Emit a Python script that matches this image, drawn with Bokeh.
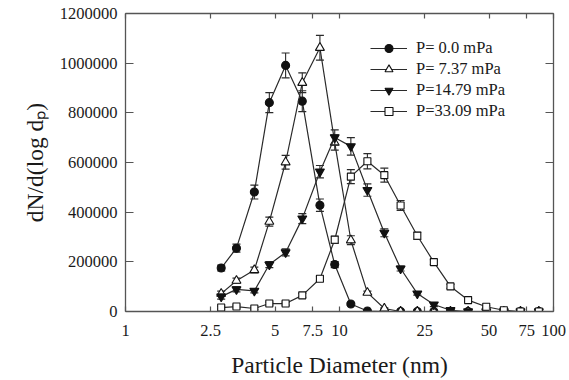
from bokeh.plotting import figure
from bokeh.models import (LogAxis, LinearAxis, FixedTicker, CustomJSTickFormatter,
                          BasicTickFormatter, Range1d, Legend, LegendItem)
from bokeh.embed import file_html
from bokeh.resources import INLINE

# ---------------- data ----------------
diam_nm = [2.8, 3.3, 4.0, 4.7, 5.6, 6.7, 8.1, 9.5, 11.3, 13.5,
           16.2, 19.3, 23.1, 27.6, 33.0, 39.9, 48.5, 58.6, 70.1, 85.4]

p_0_0 = [175000, 255000, 481000, 841000, 991000, 847000, 428000, 189000, 30000, 2000,
         0, 0, 0, 0, 0, 0, 0, 0, 0, 0]
p_7_37 = [72000, 124000, 167000, 362000, 601000, 921000, 1062000, 680000, 287000, 76000,
          12000, 0, 0, 0, 0, 0, 0, 0, 0, 0]
p_14_79 = [60000, 89000, 83000, 189000, 238000, 374000, 563000, 701000, 665000, 489000,
           317000, 173000, 72000, 28000, 5000, 0, 0, 0, 0, 0]
p_33_09 = [16000, 20000, 12000, 32000, 32000, 65000, 132000, 289000, 543000, 605000,
           549000, 427000, 305000, 199000, 101000, 46000, 19000, 5000, 0, 0]

err_0_0 = [12000, 16000, 28000, 40000, 50000, 42000, 25000, 12000, 5000, 0,
           0, 0, 0, 0, 0, 0, 0, 0, 0, 0]
err_7_37 = [10000, 10000, 12000, 18000, 28000, 40000, 50000, 30000, 18000, 6000,
            3000, 0, 0, 0, 0, 0, 0, 0, 0, 0]
err_14_79 = [10000, 10000, 8000, 12000, 14000, 20000, 25000, 30000, 35000, 25000,
             16000, 10000, 6000, 8000, 3000, 0, 0, 0, 0, 0]
err_33_09 = [6000, 6000, 5000, 6000, 6000, 8000, 10000, 15000, 28000, 31000,
             28000, 20000, 15000, 10000, 8000, 6000, 4000, 3000, 0, 0]

series_labels = ["P= 0.0 mPa", "P= 7.37 mPa", "P=14.79 mPa", "P=33.09 mPa"]
x_ticks = [1, 2.5, 5, 7.5, 10, 25, 50, 75, 100]
y_ticks = [0, 200000, 400000, 600000, 800000, 1000000, 1200000]

FONT = "Liberation Serif"
TXT = "#1a1a1a"
AX = "#555555"
LINE = "#2a2a2a"

p = figure(width=569, height=380, x_axis_type="log",
           x_range=Range1d(1, 100), y_range=Range1d(0, 1200000),
           output_backend="svg", toolbar_location=None,
           min_border_left=125, min_border_right=16, min_border_top=13, min_border_bottom=67)
p.outline_line_color = None
p.xgrid.visible = False
p.ygrid.visible = False
p.background_fill_color = "white"
p.border_fill_color = "white"

def style_axis(ax, tick_in, show_labels):
    ax.axis_line_color = AX
    ax.axis_line_width = 1.3
    ax.major_tick_line_color = AX
    ax.major_tick_line_width = 1.2
    ax.major_tick_in = tick_in
    ax.major_tick_out = 0
    ax.minor_tick_line_color = None
    ax.major_label_text_font = FONT
    ax.major_label_text_color = TXT
    if show_labels:
        ax.major_label_text_font_size = "16.5px"
    else:
        ax.major_label_text_font_size = "0px"
        ax.major_label_standoff = 0
        ax.formatter = CustomJSTickFormatter(code="return ''")

# bottom x axis
xax = p.xaxis[0]
xax.ticker = FixedTicker(ticks=x_ticks, minor_ticks=[])
xax.formatter = CustomJSTickFormatter(code="return String(tick)")
style_axis(xax, 5, True)
xax.major_label_standoff = 13
xax.axis_label = "Particle Diameter (nm)"
xax.axis_label_text_font = FONT
xax.axis_label_text_font_size = "23.5px"
xax.axis_label_text_font_style = "normal"
xax.axis_label_text_color = TXT
xax.axis_label_standoff = 13

# left y axis
yax = p.yaxis[0]
yax.ticker = FixedTicker(ticks=y_ticks, minor_ticks=[])
yax.formatter = BasicTickFormatter(use_scientific=False)
style_axis(yax, 8, True)
yax.major_label_standoff = 8
yax.axis_label = "dN/d(log d\u209a)"
yax.axis_label_text_font = FONT
yax.axis_label_text_font_size = "23.5px"
yax.axis_label_text_font_style = "normal"
yax.axis_label_text_color = TXT
yax.axis_label_standoff = 9

# mirrored top / right axes
top = LogAxis(ticker=FixedTicker(ticks=x_ticks, minor_ticks=[]))
style_axis(top, 5, False)
p.add_layout(top, "above")
right = LinearAxis(ticker=FixedTicker(ticks=y_ticks, minor_ticks=[]))
style_axis(right, 8, False)
p.add_layout(right, "right")

# ---------------- series ----------------
specs = [
    (p_0_0, err_0_0, "circle", 8, "#111111"),
    (p_7_37, err_7_37, "triangle", 9, "white"),
    (p_14_79, err_14_79, "inverted_triangle", 9, "#111111"),
    (p_33_09, err_33_09, "square", 7, "white"),
]

items = []
for (vals, errs, marker, size, fill), lab in zip(specs, series_labels):
    lr = p.line(diam_nm, vals, line_color=LINE, line_width=1.2)
    ex = [d for d, e in zip(diam_nm, errs) if e > 0]
    lo = [v - e for v, e in zip(vals, errs) if e > 0]
    hi = [v + e for v, e in zip(vals, errs) if e > 0]
    p.segment(ex, lo, ex, hi, line_color=LINE, line_width=1.1)
    p.scatter(ex + ex, lo + hi, marker="dash", size=8, line_color=LINE, line_width=1.2)
    sr = p.scatter(diam_nm, vals, marker=marker, size=size, fill_color=fill,
                   line_color="#111111", line_width=1.1)
    items.append(LegendItem(label=lab, renderers=[lr, sr]))

legend = Legend(items=items, location=(245, 190))
legend.label_text_font = FONT
legend.label_text_font_size = "16.5px"
legend.label_text_color = TXT
legend.glyph_width = 37
legend.glyph_height = 20
legend.label_height = 20
legend.spacing = 1
legend.padding = 0
legend.margin = 0
legend.label_standoff = 9
legend.border_line_color = None
legend.background_fill_alpha = 0
p.add_layout(legend)

open("out.html", "w").write(file_html(p, INLINE))
